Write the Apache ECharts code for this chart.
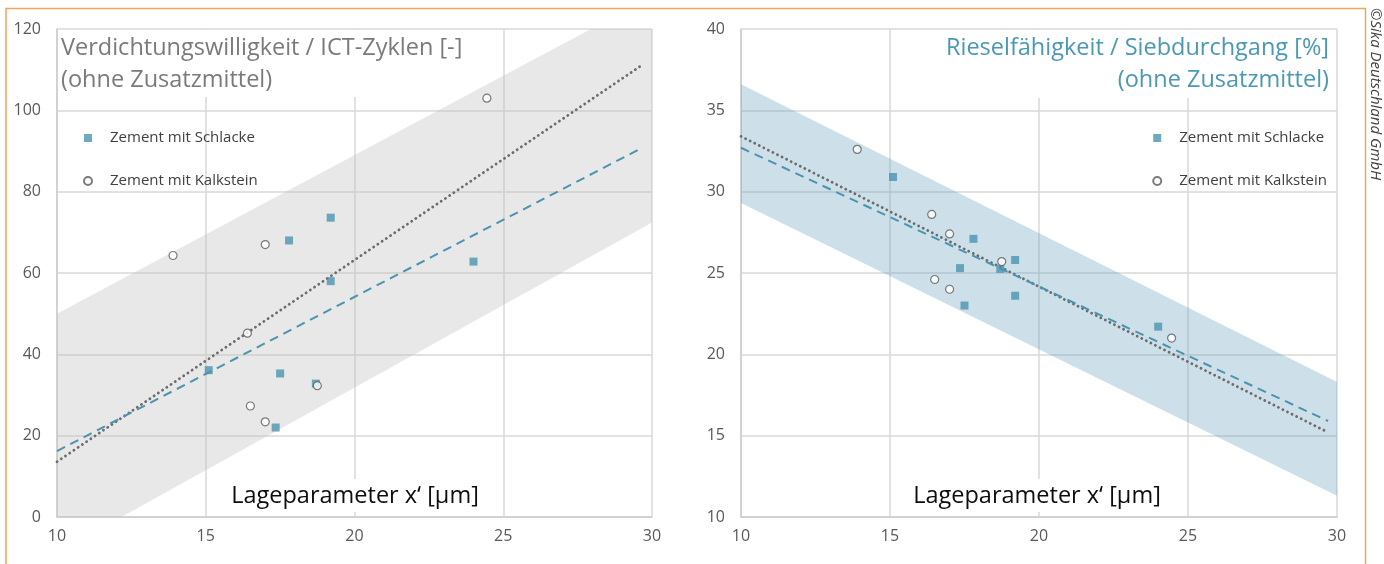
<!DOCTYPE html>
<html>
<head>
<meta charset="utf-8">
<title>Lageparameter</title>
<script src="https://cdn.jsdelivr.net/npm/echarts@6/dist/echarts.min.js"></script>
<style>
    html, body { margin: 0; padding: 0; background: #fff; }
    #box { width: 1384px; height: 564px; }
</style>
</head>
<body>
<div id="box"></div>
<script>
// Lageparameter x' der Zemente
var schlackeX = [15.1, 17.35, 17.5, 17.8, 18.7, 19.2, 19.2, 24.0];
var kalksteinX = [13.9, 16.4, 16.5, 17.0, 17.0, 18.75, 24.45];

// Verdichtungswilligkeit / ICT-Zyklen
var ictSchlacke = [36.1, 22.0, 35.3, 68.0, 32.8, 58.0, 73.6, 62.8];
var ictKalkstein = [64.3, 45.2, 27.3, 67.0, 23.4, 32.3, 103.0];

// Rieselfähigkeit / Siebdurchgang
var siebSchlacke = [30.9, 25.3, 23.0, 27.1, 25.25, 25.8, 23.6, 21.7];
var siebKalkstein = [32.6, 28.6, 24.6, 27.4, 24.0, 25.7, 21.0];

// Trendlinien (Anfang / Ende)
var trendX = [10, 29.7];
var ictTrendSchlacke = [16.2, 90.9];
var ictTrendKalkstein = [13.6, 111.3];
var siebTrendSchlacke = [32.7, 15.9];
var siebTrendKalkstein = [33.4, 15.2];

// Streubereich
var bandX = [10, 30];
var ictBandOben = [50.0, 128.0];
var ictBandUnten = [-8.8, 72.4];
var siebBandOben = [36.6, 18.3];
var siebBandUnten = [29.3, 11.3];

var FONT = '"Open Sans", Lato, sans-serif';
var BLAU = '#4a94af';

var paare = function (xs, ys) {
    var out = [];
    for (var i = 0; i < xs.length; i++) {
        out.push([xs[i], ys[i]]);
    }
    return out;
};

// Streubereich als Polygon
var band = function (idx, oben, unten, farbe) {
    return {
        type: 'custom',
        xAxisIndex: idx,
        yAxisIndex: idx,
        clip: true,
        silent: true,
        z: 1,
        data: [[bandX[0], oben[0]]],
        renderItem: function (params, api) {
            var pts = [];
            for (var i = 0; i < bandX.length; i++) {
                pts.push(api.coord([bandX[i], oben[i]]));
            }
            for (var j = bandX.length - 1; j >= 0; j--) {
                pts.push(api.coord([bandX[j], unten[j]]));
            }
            return {
                type: 'polygon',
                shape: {points: pts},
                style: {fill: farbe}
            };
        }
    };
};

var trend = function (idx, ys, dotted) {
    return {
        type: 'line',
        xAxisIndex: idx,
        yAxisIndex: idx,
        data: paare(trendX, ys),
        symbol: 'none',
        silent: true,
        z: 3,
        lineStyle: dotted ? {
            color: '#6b6b6b', width: 2.8, type: [0.1, 5], cap: 'round'
        } : {
            color: BLAU, width: 2, type: [9, 6]
        }
    };
};

var punkte = function (idx, name, xs, ys) {
    var kalk = name.indexOf('Kalkstein') >= 0;
    return {
        name: name,
        type: 'scatter',
        xAxisIndex: idx,
        yAxisIndex: idx,
        data: paare(xs, ys),
        symbol: kalk ? 'circle' : 'rect',
        symbolSize: 8,
        z: 4,
        itemStyle: kalk ? {color: '#fff', borderColor: '#5a5a5a', borderWidth: 1.2}
                        : {color: BLAU}
    };
};

var xAchse = function (idx) {
    return {
        type: 'value', gridIndex: idx, min: 10, max: 30, interval: 5,
        axisLine: {show: true, lineStyle: {color: '#cdcdcd', width: 1.5}},
        axisTick: {show: false},
        splitLine: {show: true, lineStyle: {color: '#d9d9d9', width: 1.5}},
        axisLabel: {color: '#595959', fontSize: 16, fontFamily: FONT, margin: 11}
    };
};

var yAchse = function (idx, min, max, iv) {
    return {
        type: 'value', gridIndex: idx, min: min, max: max, interval: iv,
        axisLine: {show: true, lineStyle: {color: '#cdcdcd', width: 1.5}},
        axisTick: {show: false},
        splitLine: {show: true, lineStyle: {color: '#d9d9d9', width: 1.5}},
        axisLabel: {color: '#595959', fontSize: 16, fontFamily: FONT, margin: 16}
    };
};

var legende = function (pos) {
    var l = {
        orient: 'vertical',
        top: 123,
        itemWidth: 8,
        itemHeight: 8,
        itemGap: 23,
        selectedMode: false,
        data: ['Zement mit Schlacke', 'Zement mit Kalkstein'],
        textStyle: {color: '#404040', fontSize: 15, fontFamily: FONT, lineHeight: 20, padding: [0, 0, 0, 13]}
    };
    for (var k in pos) l[k] = pos[k];
    return l;
};

var text = function (x, y, s, farbe, font, align, extra) {
    var t = {
        type: 'text', x: x, y: y, z: 5, silent: true,
        style: {text: s, fill: farbe, font: font + ' ' + FONT, textAlign: align, textVerticalAlign: 'middle'}
    };
    if (extra) for (var k in extra) t[k] = extra[k];
    return t;
};

// weisse Flaeche hinter Texten (deckt Gitterlinien ab)
var weiss = function (x, y, w, h) {
    return {type: 'rect', z: 0.5, shape: {x: x, y: y, width: w, height: h}, style: {fill: '#fff'}, silent: true};
};

var myChart = echarts.init(document.getElementById('box'));
myChart.setOption({
    animation: false,
    backgroundColor: '#fff',
    grid: [
        {left: 57, right: 732, top: 29, bottom: 47},
        {left: 741, right: 47, top: 29, bottom: 47}
    ],
    xAxis: [xAchse(0), xAchse(1)],
    yAxis: [yAchse(0, 0, 120, 20), yAchse(1, 10, 40, 5)],
    legend: [legende({left: 78}), legende({right: 52})],
    graphic: [
        // Rahmen
        {type: 'rect', z: 6, shape: {x: 6, y: 8.5, width: 1359.5, height: 600},
            style: {fill: null, stroke: '#f4a25e', lineWidth: 1.5}, silent: true},
        text(1375, 8, '©Sika Deutschland GmbH', '#404040', 'italic 15px', 'left', {rotation: -Math.PI / 2}),
        // Titel links
        weiss(59, 30, 412, 67),
        text(61, 48, 'Verdichtungswilligkeit / ICT-Zyklen [-]', '#7a7a7a', '23.5px', 'left'),
        text(61, 80, '(ohne Zusatzmittel)', '#7a7a7a', '23.5px', 'left'),
        // Titel rechts
        weiss(938, 30, 397, 68),
        text(1329, 48, 'Rieselfähigkeit / Siebdurchgang [%]', '#4a98b5', '23.5px', 'right'),
        text(1329, 80, '(ohne Zusatzmittel)', '#4a98b5', '23.5px', 'right'),
        // Achsentitel
        weiss(222, 479, 266, 33),
        text(355, 496, 'Lageparameter x‘ [µm]', '#0d0d0d', '23.5px', 'center'),
        weiss(903, 479, 268, 33),
        text(1037, 496, 'Lageparameter x‘ [µm]', '#0d0d0d', '23.5px', 'center')
    ],
    series: [
        band(0, ictBandOben, ictBandUnten, 'rgba(190,190,190,0.36)'),
        band(1, siebBandOben, siebBandUnten, 'rgba(100,160,190,0.32)'),
        trend(0, ictTrendKalkstein, true),
        trend(0, ictTrendSchlacke, false),
        trend(1, siebTrendKalkstein, true),
        trend(1, siebTrendSchlacke, false),
        punkte(0, 'Zement mit Schlacke', schlackeX, ictSchlacke),
        punkte(0, 'Zement mit Kalkstein', kalksteinX, ictKalkstein),
        punkte(1, 'Zement mit Schlacke', schlackeX, siebSchlacke),
        punkte(1, 'Zement mit Kalkstein', kalksteinX, siebKalkstein)
    ]
});
</script>
</body>
</html>
